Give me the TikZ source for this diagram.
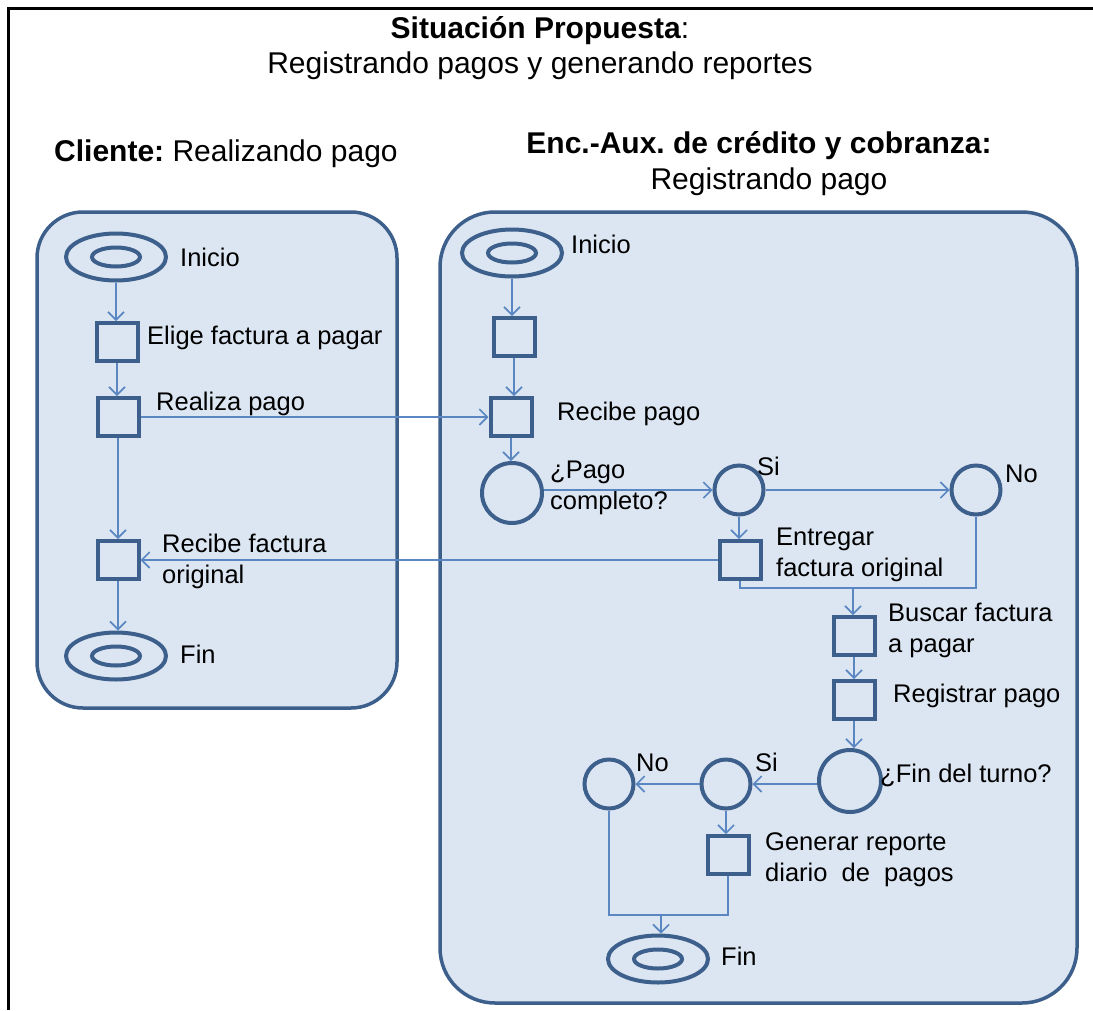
\documentclass[tikz,border=0pt]{standalone}
\usepackage{fontspec}
\setmainfont{Liberation Sans}
\usepackage{tikz}
\usetikzlibrary{arrows.meta,shapes.geometric,calc}
\frenchspacing
\definecolor{poolfill}{HTML}{DCE6F2}
\definecolor{poolline}{HTML}{3D5F8B}
\definecolor{flowline}{HTML}{5A87C2}
\tikzset{
  pool/.style={draw=poolline,fill=poolfill,line width=3.5pt},
  tbox/.style={draw=poolline,line width=4pt,minimum width=41pt,minimum height=38pt,inner sep=0pt},
  place/.style={draw=poolline,line width=4pt,circle,minimum size=#1,inner sep=0pt},
  place/.default=49pt,
  term/.style={draw=poolline,line width=4pt,ellipse,minimum width=100pt,minimum height=47pt,inner sep=0pt},
  lbl/.style={anchor=west,align=left,font=\fontsize{25.5}{31}\selectfont,inner sep=0pt},
  head/.style={font=\fontsize{30}{37}\selectfont,inner sep=0pt},
  arr/.style={draw=flowline,line width=1.6pt,-{Straight Barb[length=8pt,width=16pt,line width=1.6pt]}},
  ln/.style={draw=flowline,line width=1.6pt}
}
\newcommand{\hole}[1]{\draw[poolline,line width=4pt] (#1.center) ellipse [x radius=24pt, y radius=9.5pt];}
\begin{document}
\begin{tikzpicture}[x=1pt,y=-1pt]
\useasboundingbox (0,0) rectangle (1093,1010);
\draw[line width=3pt] (8,1010) -- (8,8) -- (1093,8);

\node[head] (tit) at (540,31) {\textbf{Situación Propuesta}:};
\node[head] (sub) at (540,66) {Registrando pagos y generando reportes};
\node[head,anchor=west] (hcli) at (54,154) {\textbf{Cliente:} Realizando pago};
\node[head] (henc) at (759,146) {\textbf{Enc.-Aux. de crédito y cobranza:}};
\node[head] (henc2) at (769,182) {Registrando pago};

\draw[pool,rounded corners=46pt] (37,212) rectangle (397,708);
\draw[pool,rounded corners=55pt] (440,212) rectangle (1077,1003);

% cliente
\node[term] (cIni) at (116,257) {};
\hole{cIni}
\node[tbox] (cElige) at (117,342) {};
\node[tbox] (cRealiza) at (118,417) {};
\node[tbox] (cRecibe) at (118,560) {};
\node[term] (cFin) at (116,656) {};
\hole{cFin}
\node[lbl] (lcIni) at (180,257) {Inicio};
\node[lbl] (lcElige) at (147,338) {Elige factura a pagar};
\node[lbl] (lcRealiza) at (156,404) {Realiza pago};
\node[lbl] (lcRecibe) at (162,561) {Recibe factura\\original};
\node[lbl] (lcFin) at (180,654) {Fin};
\draw[arr] (cIni) -- (cIni |- cElige.north);
\draw[arr] (cElige) -- (cElige |- cRealiza.north);
\draw[arr] (cRealiza) -- (cRealiza |- cRecibe.north);
\draw[arr] (cRecibe) -- (cRecibe |- cFin.north);

% encargado
\node[term] (eIni) at (512,253) {};
\hole{eIni}
\node[tbox] (eBox) at (514,337) {};
\node[tbox] (eRecibe) at (511,417) {};
\node[place=60pt] (ePago) at (512,493) {};
\node[place] (eSi) at (739,490) {};
\node[place] (eNo) at (976,490) {};
\node[tbox] (eEntrega) at (740,560) {};
\node[tbox] (eBusca) at (854,636) {};
\node[tbox] (eRegistra) at (854,700) {};
\node[place=62pt] (eTurno) at (850,781) {};
\node[place] (eSi2) at (726,784) {};
\node[place] (eNo2) at (609,784) {};
\node[tbox] (eGenera) at (728,855) {};
\node[term] (eFin) at (658,959) {};
\hole{eFin}
\coordinate (jA) at (853,588);
\coordinate (jB) at (661,915);

\node[lbl] (leIni) at (571,244) {Inicio};
\node[lbl] (leRecibe) at (557,414) {Recibe pago};
\node[lbl] (lePago) at (550,488) {¿Pago\\completo?};
\node[lbl] (leSi) at (757,466) {Si};
\node[lbl] (leNo) at (1005,474) {No};
\node[lbl] (leEntrega) at (776,555) {Entregar\\factura original};
\node[lbl] (leBusca) at (888,630) {Buscar factura\\a pagar};
\node[lbl] (leRegistra) at (893,696) {Registrar pago};
\node[lbl] (leTurno) at (880,775) {¿Fin del turno?};
\node[lbl] (leSi2) at (755,762) {Si};
\node[lbl] (leNo2) at (636,763) {No};
\node[lbl] (leGenera) at (765,860) {Generar reporte\\diario~ de~ pagos};
\node[lbl] (leFin) at (721,956) {Fin};

\draw[arr] (eIni) -- (eIni |- eBox.north);
\draw[arr] (eBox) -- (eBox |- eRecibe.north);
\draw[arr] (eRecibe) -- (eRecibe |- ePago.north);
\draw[arr] (cRealiza) -- (eRecibe);
\draw[arr] (eEntrega) -- (cRecibe);
\draw[arr] (ePago.east |- eSi) -- (eSi);
\draw[arr] (eSi) -- (eNo);
\draw[arr] (eSi) -- (eSi |- eEntrega.north);
\draw[ln] (eEntrega.south) |- (jA) -| (eNo.south);
\draw[arr] (jA) -- (jA |- eBusca.north);
\draw[arr] (eBusca) -- (eBusca |- eRegistra.north);
\draw[arr] (eRegistra) -- (eRegistra |- eTurno.north);
\draw[arr] (eTurno.west |- eSi2) -- (eSi2);
\draw[arr] (eSi2) -- (eNo2);
\draw[arr] (eSi2) -- (eSi2 |- eGenera.north);
\draw[ln] (eNo2.south) |- (jB) -| (eGenera.south);
\draw[arr] (jB) -- (jB |- eFin.north);
\end{tikzpicture}
\end{document}
